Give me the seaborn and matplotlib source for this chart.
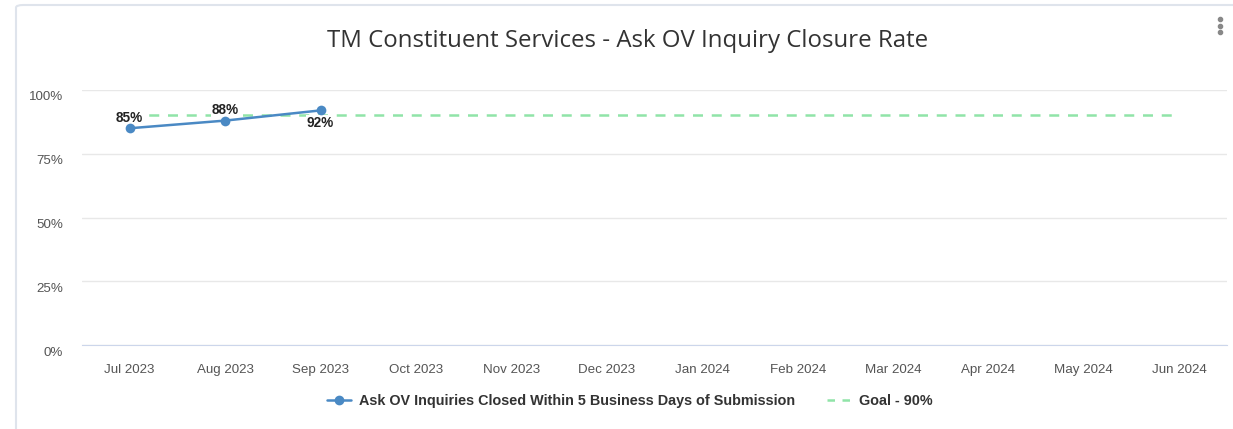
import pandas as pd
import seaborn as sns
import matplotlib.pyplot as plt
import matplotlib.transforms as mtransforms
from matplotlib.lines import Line2D
from matplotlib.patches import FancyBboxPatch

# chart data
months = ["Jul 2023", "Aug 2023", "Sep 2023", "Oct 2023", "Nov 2023", "Dec 2023",
          "Jan 2024", "Feb 2024", "Mar 2024", "Apr 2024", "May 2024", "Jun 2024"]
closure_rate = [85, 88, 92]   # only the first three months reported
goal = 90
y_ticks = [0, 25, 50, 75, 100]
series_name = "Ask OV Inquiries Closed Within 5 Business Days of Submission"
goal_name = "Goal - 90%"
title = "TM Constituent Services - Ask OV Inquiry Closure Rate"

rate_df = pd.DataFrame({"idx": range(len(closure_rate)), "rate": closure_rate})
goal_df = pd.DataFrame({"idx": range(len(months)), "goal": [goal] * len(months)})

sns.set_style("white")
plt.rcParams['font.family'] = ['Open Sans', 'DejaVu Sans']
arial_like = ["Liberation Sans", "DejaVu Sans"]

fig = plt.figure(figsize=(12.33, 4.29), dpi=100)
ax = fig.add_axes([82 / 1233, 1 - 345 / 429, (1227 - 82) / 1233, (345 - 90) / 429])

# card border
fig.patches.append(FancyBboxPatch((16 / 1233, -0.05), 1.2, 1 - 5 / 429 + 0.05,
                                  boxstyle="round,pad=0,rounding_size=0.006",
                                  transform=fig.transFigure, fill=False,
                                  edgecolor="#dfe4ec", linewidth=1.5, zorder=-1))

line_col = "#4a89c4"
goal_col = "#90e4a8"

sns.lineplot(data=goal_df, x="idx", y="goal", ax=ax, color=goal_col,
             linestyle=(0, (4, 3.5)), linewidth=1.8, zorder=2)
sns.lineplot(data=rate_df, x="idx", y="rate", ax=ax, color=line_col,
             linewidth=1.8, marker="o", markersize=7, markeredgewidth=0, zorder=3)

# data labels (sit above the goal line but under the series line)
label_side = ["above", "above", "below"]
for i, v in enumerate(closure_rate):
    dy = 7.5 if label_side[i] == "above" else -9
    ax.annotate(f"{v}%", (i, v), xytext=(0, dy), textcoords="offset points",
                ha="center", va="center", fontsize=9.8, fontweight="bold",
                color="#222222", family=arial_like, zorder=2.5,
                bbox=dict(boxstyle="square,pad=0.05", fc="white", ec="none"))

ax.set_xlim(-0.5, len(months) - 0.5)
ax.set_ylim(0, 100)
ax.set_xticks(range(len(months)))
ax.set_xticklabels(months)
ax.set_yticks(y_ticks)
ax.set_yticklabels([f"{t}%" for t in y_ticks])
ax.tick_params(axis="both", length=0, labelsize=9.6, colors="#555555")
ax.tick_params(axis="y", pad=13.5)
ax.tick_params(axis="x", pad=14)
shift = mtransforms.ScaledTranslation(0, -6 / 100, fig.dpi_scale_trans)
for lab in ax.get_yticklabels():
    lab.set_transform(lab.get_transform() + shift)
for lab in ax.get_xticklabels() + ax.get_yticklabels():
    lab.set_family(arial_like)

ax.grid(axis="y", color="#e8e8e8", linewidth=1)
for s in ["top", "right", "left"]:
    ax.spines[s].set_visible(False)
ax.spines["bottom"].set_color("#ccd6eb")
ax.set_xlabel("")
ax.set_ylabel("")

fig.text(628 / 1233, 1 - 41 / 429, title, ha="center", va="center",
         fontsize=17.3, color="#333333")

# menu dots
for yy in [19, 25.5, 32]:
    fig.add_artist(Line2D([1220 / 1233], [1 - yy / 429], marker="o", markersize=3,
                          color="#888888", transform=fig.transFigure))

handles = [
    Line2D([], [], color=line_col, linewidth=1.8, marker="o", markersize=6),
    Line2D([], [], color=goal_col, linewidth=1.8, linestyle=(0, (3, 3))),
]
leg = fig.legend(handles, [series_name, goal_name], loc="center",
                 bbox_to_anchor=(630 / 1233, 1 - 401 / 429), ncol=2, frameon=False,
                 handlelength=1.6, columnspacing=2.2, handletextpad=0.6,
                 prop={"family": arial_like, "weight": "bold", "size": 10.4})
for t in leg.get_texts():
    t.set_color("#333333")

fig.savefig("out.png", dpi=100)
